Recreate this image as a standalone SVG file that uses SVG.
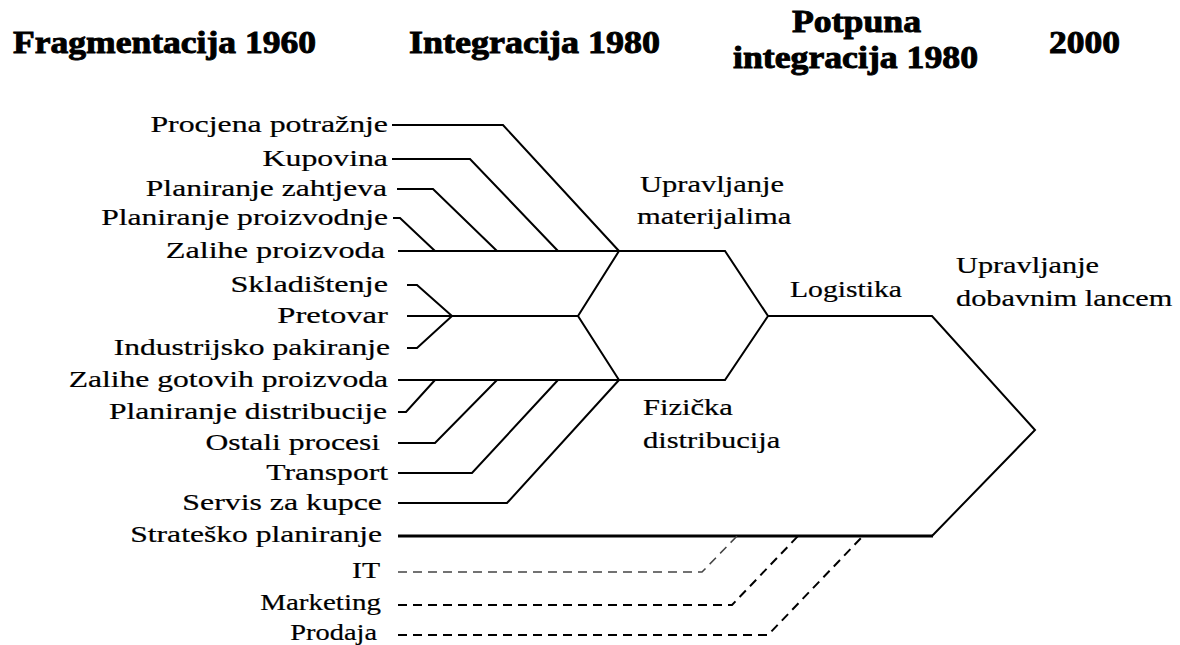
<svg xmlns="http://www.w3.org/2000/svg" width="1180" height="645" viewBox="0 0 1180 645">
<style>
.hdr{font-family:"Liberation Serif",serif;font-weight:bold;font-size:31px;fill:#000;stroke:#000;stroke-width:0.9}
.lbl{font-family:"Liberation Serif",serif;font-size:23px;fill:#000;stroke:#000;stroke-width:0.2}
.ln{fill:none;stroke:#000;stroke-width:2;stroke-linejoin:miter}
.thick{stroke-width:3}
.dash{stroke-dasharray:9 6;stroke-width:2}
.dashlt{stroke:#444;stroke-width:1.5}
</style>
<rect width="1180" height="645" fill="#fff"/>
<g id="headers">
<text class="hdr" x="13" y="53" textLength="303" lengthAdjust="spacingAndGlyphs">Fragmentacija 1960</text>
<text class="hdr" x="409" y="53" textLength="251" lengthAdjust="spacingAndGlyphs">Integracija 1980</text>
<text class="hdr" x="792" y="32" textLength="129" lengthAdjust="spacingAndGlyphs">Potpuna</text>
<text class="hdr" x="733" y="68" textLength="245" lengthAdjust="spacingAndGlyphs">integracija 1980</text>
<text class="hdr" x="1049" y="53" textLength="71" lengthAdjust="spacingAndGlyphs">2000</text>
</g>
<g id="connectors">
<path class="ln" d="M392,125 H503 L619,251"/>
<path class="ln" d="M392,159 H470 L558,251"/>
<path class="ln" d="M397,189 H433 L497,251"/>
<path class="ln" d="M393,218 H400 L435,251"/>
<path class="ln" d="M398,251 H725 L768,316 L725,380 H398"/>
<path class="ln" d="M619,251 L578,316 L619,380"/>
<path class="ln" d="M407,316 H578"/>
<path class="ln" d="M407,285 H417 L452,316 L417,348 H407"/>
<path class="ln" d="M398,412 H406 L435,380"/>
<path class="ln" d="M398,443 H435 L497,380"/>
<path class="ln" d="M398,473 H472 L558,380"/>
<path class="ln" d="M398,503 H507 L619,380"/>
<path class="ln" d="M768,316 H932 L1035,430 L932,536"/>
<path class="ln thick" d="M398,536 H933"/>
<path class="ln dash dashlt" d="M398,572 H702 L737,536"/>
<path class="ln dash" d="M398,605 H732 L798,536"/>
<path class="ln dash" d="M398,635 H768 L863,536"/>
</g>
<g id="n-procjena"><text class="lbl" text-anchor="end" transform="translate(388 132) scale(1.384 1)">Procjena potražnje</text></g>
<g id="n-kupovina"><text class="lbl" text-anchor="end" transform="translate(388 166) scale(1.384 1)">Kupovina</text></g>
<g id="n-plan-zahtjeva"><text class="lbl" text-anchor="end" transform="translate(387 196) scale(1.374 1)">Planiranje zahtjeva</text></g>
<g id="n-plan-proizvodnje"><text class="lbl" text-anchor="end" transform="translate(388 225) scale(1.374 1)">Planiranje proizvodnje</text></g>
<g id="n-zalihe-proizvoda"><text class="lbl" text-anchor="end" transform="translate(385 258) scale(1.402 1)">Zalihe proizvoda</text></g>
<g id="n-skladistenje"><text class="lbl" text-anchor="end" transform="translate(388 292) scale(1.402 1)">Skladištenje</text></g>
<g id="n-pretovar"><text class="lbl" text-anchor="end" transform="translate(388 323) scale(1.421 1)">Pretovar</text></g>
<g id="n-industrijsko"><text class="lbl" text-anchor="end" transform="translate(390 355) scale(1.374 1)">Industrijsko pakiranje</text></g>
<g id="n-zalihe-gotovih"><text class="lbl" text-anchor="end" transform="translate(388 387) scale(1.374 1)">Zalihe gotovih proizvoda</text></g>
<g id="n-plan-distribucije"><text class="lbl" text-anchor="end" transform="translate(387 419) scale(1.374 1)">Planiranje distribucije</text></g>
<g id="n-ostali"><text class="lbl" text-anchor="end" transform="translate(380 450) scale(1.374 1)">Ostali procesi</text></g>
<g id="n-transport"><text class="lbl" text-anchor="end" transform="translate(388 480) scale(1.374 1)">Transport</text></g>
<g id="n-servis"><text class="lbl" text-anchor="end" transform="translate(382 510) scale(1.384 1)">Servis za kupce</text></g>
<g id="n-strategija"><text class="lbl" text-anchor="end" transform="translate(382 542) scale(1.374 1)">Strateško planiranje</text></g>
<g id="n-it"><text class="lbl" text-anchor="end" transform="translate(380 578) scale(1.29 1)">IT</text></g>
<g id="n-marketing"><text class="lbl" text-anchor="end" transform="translate(381 610) scale(1.262 1)">Marketing</text></g>
<g id="n-prodaja"><text class="lbl" text-anchor="end" transform="translate(377 640) scale(1.234 1)">Prodaja</text></g>
<g id="n-upr-materijalima"><text class="lbl" transform="translate(640 192) scale(1.327 1)">Upravljanje</text><text class="lbl" transform="translate(637 224) scale(1.327 1)">materijalima</text></g>
<g id="n-logistika"><text class="lbl" transform="translate(790 297) scale(1.29 1)">Logistika</text></g>
<g id="n-upr-lancem"><text class="lbl" transform="translate(956 273) scale(1.318 1)">Upravljanje</text><text class="lbl" transform="translate(956 306) scale(1.318 1)">dobavnim lancem</text></g>
<g id="n-fizicka"><text class="lbl" transform="translate(643 415) scale(1.327 1)">Fizička</text><text class="lbl" transform="translate(643 448) scale(1.327 1)">distribucija</text></g>
</svg>
